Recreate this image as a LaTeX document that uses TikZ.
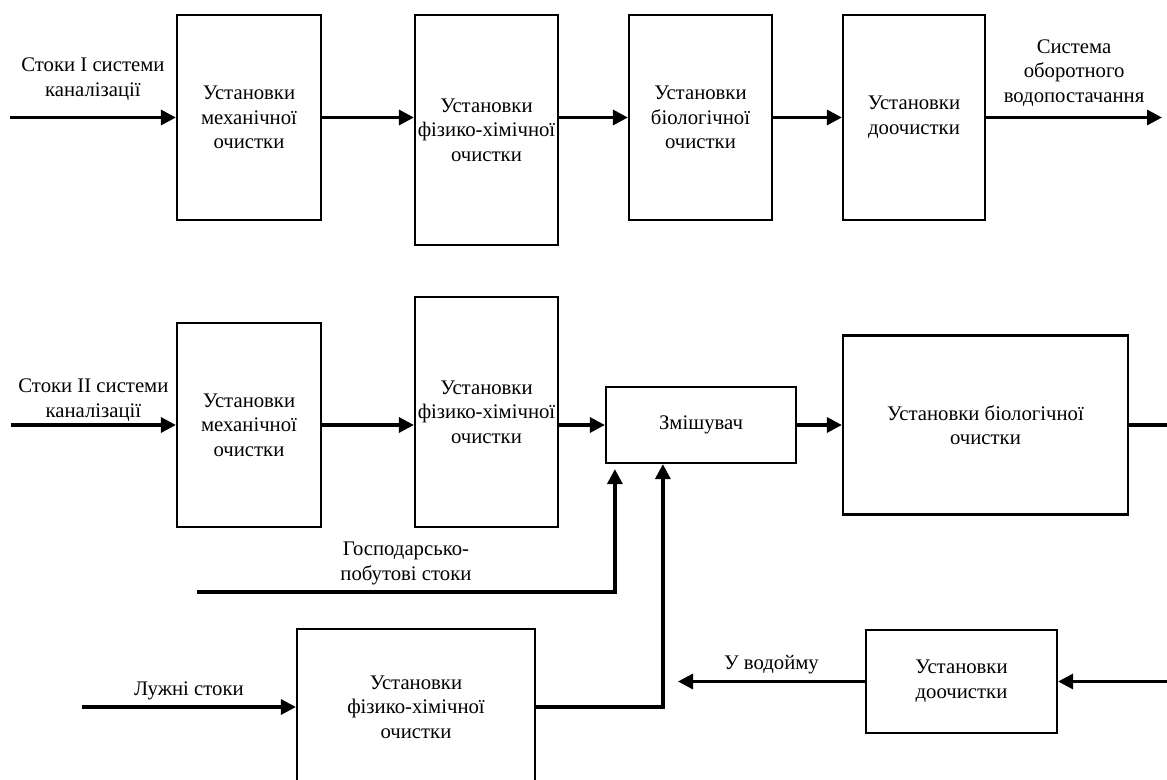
\documentclass[tikz,border=0pt]{standalone}
\usepackage{fontspec}
\setmainfont{Liberation Serif}
\usetikzlibrary{arrows.meta}

\begin{document}
\begin{tikzpicture}[x=0.02cm,y=-0.02cm,>={Triangle[length=0.3cm,width=0.3cm]},
  ust/.style={draw,line width=0.045cm,align=center,inner sep=1pt,font=\fontsize{11.8}{14}\selectfont},
  lbl/.style={align=center,font=\fontsize{11.8}{14}\selectfont},
  flow/.style={->,line width=0.065cm}]
  \useasboundingbox (0,0) rectangle (1167,780);
  \node[ust,minimum width=2.88cm,minimum height=4.1cm](m1)at(249,117.5){Установки\\механічної\\очистки};
  \node[ust,minimum width=2.86cm,minimum height=4.6cm](f1)at(486.5,130){Установки\\фізико-хімічної\\очистки};
  \node[ust,minimum width=2.86cm,minimum height=4.1cm](b1)at(700.5,117.5){Установки\\біологічної\\очистки};
  \node[ust,minimum width=2.84cm,minimum height=4.1cm](d1)at(914,117.5){Установки\\доочистки};
  \coordinate(in1)at(10,117.5);\coordinate(out1)at(1162,117.5);
  \draw[flow](in1)--(m1.west) node[midway,above=0.2cm,lbl]{Стоки I системи\\каналізації};
  \draw[flow](m1.east)--(m1.east -| f1.west);
  \draw[flow](m1.east -| f1.east)--(b1.west);
  \draw[flow](b1.east)--(d1.west);
  \draw[flow](d1.east)--(out1) node[midway,above=2pt,lbl]{Система\\оборотного\\водопостачання};
  \node[ust,minimum width=2.88cm,minimum height=4.08cm](m2)at(249,425){Установки\\механічної\\очистки};
  \node[ust,minimum width=2.86cm,minimum height=4.6cm](f2)at(486.5,412){Установки\\фізико-хімічної\\очистки};
  \node[ust,minimum width=3.8cm,minimum height=1.52cm](mix)at(701,425){Змішувач};
  \node[ust,minimum width=5.7cm,minimum height=3.58cm](b2)at(985.5,425){Установки біологічної\\очистки};
  \coordinate(in2)at(11,425);\coordinate(out2)at(1167,425);
  \draw[flow](in2)--(m2.west) node[midway,above=-2pt,lbl]{Стоки II системи\\каналізації};
  \draw[flow](m2.east)--(m2.east -| f2.west);
  \draw[flow](m2.east -| f2.east)--(mix.west);
  \draw[flow](mix.east)--(b2.west);
  \draw[line width=0.065cm](b2.east)--(out2);
  \coordinate(g0)at(197,592);\coordinate(g1)at([xshift=0.2cm,yshift=-0.1cm]mix.south west);
  \draw[flow](g0)-|(g1) node[pos=0.25,above,lbl]{Господарсько-\\побутові стоки};
  \node[ust,minimum width=4.76cm,minimum height=3.12cm](lz)at(416,707){Установки\\фізико-хімічної\\очистки};
  \coordinate(in4)at(82,707);
  \draw[flow](in4)--(lz.west) node[midway,above,lbl]{Лужні стоки};
  \draw[flow](lz.east)-|([xshift=1.16cm]mix.south west);
  \node[ust,minimum width=3.82cm,minimum height=2.06cm](d2)at(961.5,681.5){Установки\\доочистки};
  \coordinate(rv)at(678,681.5);\coordinate(in5)at(1167,681.5);
  \draw[flow](d2.west)--(rv) node[midway,above,lbl]{У водойму};
  \draw[flow](in5)--(d2.east);
\end{tikzpicture}
\end{document}
